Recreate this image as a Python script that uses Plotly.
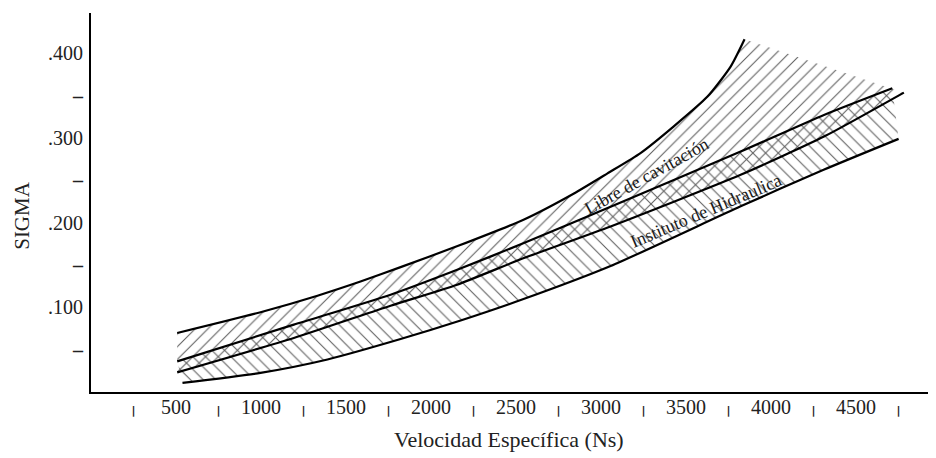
import plotly.graph_objects as go

# Curve A: upper limit "Libre de cavitación"
a_x = [507, 997, 1332, 1585, 1821, 2156, 2544, 2838, 3038, 3232, 3426, 3626, 3762, 3844]
a_y = [0.0697, 0.0942, 0.1137, 0.1304, 0.1474, 0.1723, 0.2034, 0.2341, 0.2581, 0.2820, 0.3133, 0.3487, 0.3841, 0.4164]
# Curve C: lower limit "Libre de cavitación"
c_x = [507, 1193, 1762, 2154, 2546, 3056, 3821, 4311, 4781]
c_y = [0.0232, 0.0638, 0.1019, 0.1267, 0.1581, 0.1954, 0.2564, 0.3015, 0.3534]
# Curve B: upper limit "Instituto de Hidraulica"
b_x = [507, 1193, 1762, 2154, 2546, 3056, 3821, 4311, 4713]
b_y = [0.0362, 0.0795, 0.1149, 0.1443, 0.1758, 0.2186, 0.2838, 0.3271, 0.3586]
# Curve D: lower limit "Instituto de Hidraulica"
d_x = [538, 997, 1391, 1821, 2174, 2544, 3056, 3821, 4309, 4750]
d_y = [0.0107, 0.0226, 0.0384, 0.0625, 0.0844, 0.1097, 0.1487, 0.2192, 0.2623, 0.2988]

x_tickvals = [250, 500, 750, 1000, 1250, 1500, 1750, 2000, 2250, 2500, 2750,
              3000, 3250, 3500, 3750, 4000, 4250, 4500, 4750]
x_labels = ["500", "1000", "1500", "2000", "2500", "3000", "3500", "4000", "4500"]
y_tickvals = [0.05, 0.1, 0.15, 0.2, 0.25, 0.3, 0.35, 0.4]
y_labels = [".100", ".200", ".300", ".400"]

mark = "<span style='font-family:DejaVu Sans;font-size:11px'><b>|</b></span>"
x_ticktext = []
li = 0
for i, v in enumerate(x_tickvals):
    if i % 2 == 0:
        x_ticktext.append(mark)
    else:
        x_ticktext.append(x_labels[li]); li += 1
y_ticktext = []
li = 0
for i, v in enumerate(y_tickvals):
    if i % 2 == 0:
        y_ticktext.append("<b>–</b>")
    else:
        y_ticktext.append(y_labels[li]); li += 1

SERIF = "Liberation Serif"
fig = go.Figure()

# Band 1 hatch "/"
fig.add_trace(go.Scatter(
    x=a_x + c_x[::-1], y=a_y + c_y[::-1], mode="none", fill="toself",
    fillcolor="rgba(0,0,0,0)",
    fillpattern=dict(shape="/", size=9, solidity=0.12, fgcolor="#5f5f5f",
                     bgcolor="rgba(0,0,0,0)", fillmode="replace"),
    hoverinfo="skip", showlegend=False))
# Band 2 hatch "\"
fig.add_trace(go.Scatter(
    x=b_x + d_x[::-1], y=b_y + d_y[::-1], mode="none", fill="toself",
    fillcolor="rgba(0,0,0,0)",
    fillpattern=dict(shape="\\", size=9, solidity=0.12, fgcolor="#5f5f5f",
                     bgcolor="rgba(0,0,0,0)", fillmode="replace"),
    hoverinfo="skip", showlegend=False))

for xs, ys in [(a_x, a_y), (b_x, b_y), (c_x, c_y), (d_x, d_y)]:
    fig.add_trace(go.Scatter(x=xs, y=ys, mode="lines",
                             line=dict(color="black", width=2.2, shape="spline", smoothing=0.6),
                             hoverinfo="skip", showlegend=False))

fig.add_annotation(x=3268, y=0.2552, text="Libre de cavitación", showarrow=False,
                   textangle=-29, font=dict(family=SERIF, size=18, color="#1a1a1a"))
fig.add_annotation(x=3615, y=0.2139, text="Instituto de Hidraulica", showarrow=False,
                   textangle=-23, font=dict(family=SERIF, size=18, color="#1a1a1a"))

fig.add_annotation(xref="x", yref="paper", x=2456, y=0, yshift=-47, yanchor="middle",
                   text="Velocidad Específica (Ns)", showarrow=False,
                   font=dict(family=SERIF, size=22, color="#222"))
fig.add_annotation(xref="paper", yref="y", x=0, xshift=-69, y=0.208, xanchor="center",
                   text="SIGMA", textangle=-90, showarrow=False,
                   font=dict(family=SERIF, size=21, color="#222"))

fig.update_layout(
    width=928, height=450,
    margin=dict(l=83, r=0, t=5, b=65.6),
    paper_bgcolor="white", plot_bgcolor="white",
    font=dict(family=SERIF, size=20, color="#222"),
    xaxis=dict(range=[0, 4970], showgrid=False, zeroline=False, showline=True,
               linecolor="black", linewidth=2, tickmode="array",
               tickvals=x_tickvals, ticktext=x_ticktext, ticks="",
               ticklabelstandoff=-4,
               tickfont=dict(family=SERIF, size=20, color="#222")),
    yaxis=dict(range=[0, 0.4474], showgrid=False, zeroline=False, showline=True,
               linecolor="black", linewidth=2, tickmode="array",
               tickvals=y_tickvals, ticktext=y_ticktext, ticks="",
               ticklabelstandoff=2,
               tickfont=dict(family=SERIF, size=20, color="#222")),
)

fig.write_html("out.html")
